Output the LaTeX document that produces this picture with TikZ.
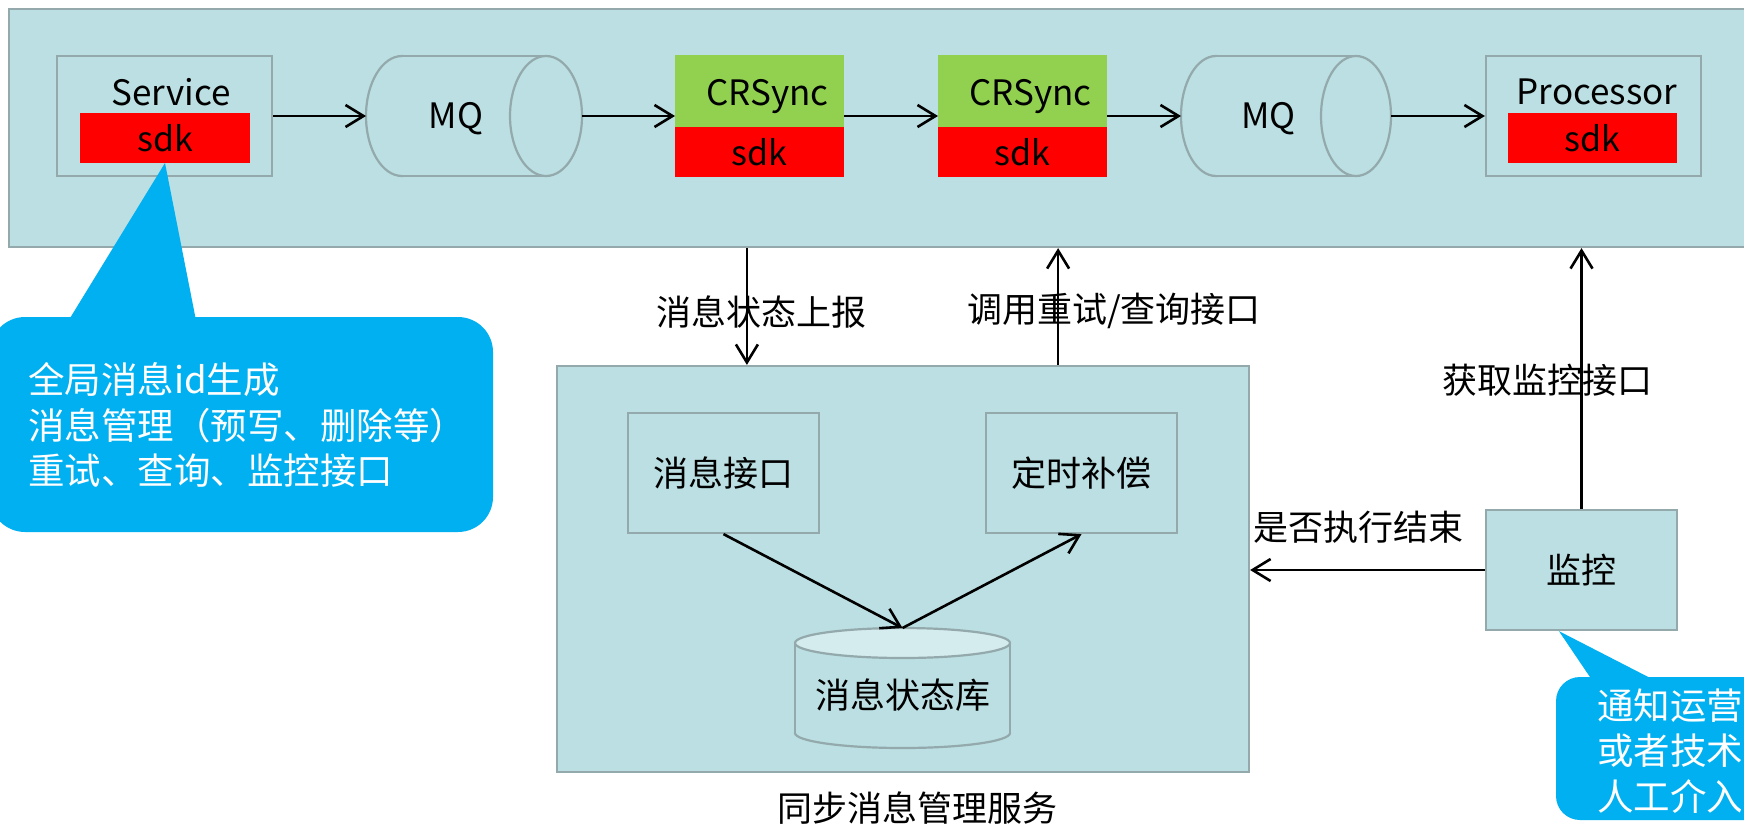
\documentclass[tikz,border=0pt]{standalone}
\usepackage{fontspec}
\setmainfont{Noto Sans CJK SC}
\usetikzlibrary{positioning,calc,arrows.meta}

\definecolor{boxteal}{RGB}{187,223,226}
\definecolor{edgegray}{RGB}{147,169,171}
\definecolor{dbtop}{RGB}{213,236,239}
\definecolor{sdkred}{RGB}{255,0,0}
\definecolor{syncgreen}{RGB}{146,208,80}
\definecolor{noteblue}{RGB}{0,176,240}

\tikzset{every picture/.style={line width=2.2pt}}
\tikzset{
  frame/.style={draw=edgegray, fill=boxteal, inner sep=0pt, font=\fontsize{35}{42}\selectfont},
  slot/.style={inner sep=0pt, outer sep=0pt},
  sdkbox/.style={fill=sdkred, inner sep=0pt, outer sep=0pt, minimum height=50, font=\fontsize{34}{40}\selectfont},
  syncbox/.style={fill=syncgreen, inner sep=0pt, outer sep=0pt, minimum width=169, minimum height=72},
  lbl/.style={inner sep=0pt, font=\fontsize{35}{42}\selectfont},
  note/.style={fill=noteblue, rounded corners=35, inner sep=0pt},
  notetext/.style={text=white, align=left, inner sep=0pt, font=\fontsize{36.5}{45.5}\selectfont},
  arr/.style={-{Straight Barb[length=18pt,width=22pt]}, black, line width=2.6pt}
}

\begin{document}
\begin{tikzpicture}[x=1pt,y=1pt,yscale=-1]
\useasboundingbox (0,0) rectangle (1744,825);
\clip (0,0) rectangle (1744,825);

% top chain
\node[frame, minimum width=1791, minimum height=238] (topbar) at (904.5,128) {};

\node[frame, minimum width=215, minimum height=120] (svc) at (164.5,116) {};
\node[lbl] (svcname) at (171,92) {Service};
\node[sdkbox, minimum width=170] (svcsdk) at (165,138) {sdk};

% MQ 1
\node[slot, minimum width=180, minimum height=120] (mq1) at (456,116) {};
\draw[edgegray, fill=boxteal] ($(mq1.west)+(36,0)$) ellipse [x radius=36, y radius=60];
\fill[boxteal] ($(mq1.north west)+(36,0)$) rectangle (mq1.south east);
\draw[edgegray] ($(mq1.north west)+(36,0)$) -- (mq1.north east) ($(mq1.south west)+(36,0)$) -- (mq1.south east);
\draw[edgegray, fill=boxteal] (mq1.east) ellipse [x radius=36, y radius=60];
\node[lbl] (mq1txt) at ($(mq1)+(0,3)$) {MQ};

\node[syncbox] (crs1) at (759.5,91) {};
\node[lbl] (crs1name) at ($(crs1)+(8,6)$) {CRSync};
\node[sdkbox, minimum width=169, below=0pt of crs1] (crs1sdk) {sdk};
\node[syncbox] (crs2) at (1022.5,91) {};
\node[lbl] (crs2name) at ($(crs2)+(8,6)$) {CRSync};
\node[sdkbox, minimum width=169, below=0pt of crs2] (crs2sdk) {sdk};

% MQ 2
\node[slot, minimum width=175, minimum height=120] (mq2) at (1268.5,116) {};
\draw[edgegray, fill=boxteal] ($(mq2.west)+(35,0)$) ellipse [x radius=35, y radius=60];
\fill[boxteal] ($(mq2.north west)+(35,0)$) rectangle (mq2.south east);
\draw[edgegray] ($(mq2.north west)+(35,0)$) -- (mq2.north east) ($(mq2.south west)+(35,0)$) -- (mq2.south east);
\draw[edgegray, fill=boxteal] (mq2.east) ellipse [x radius=35, y radius=60];
\node[lbl] (mq2txt) at ($(mq2)+(0,3)$) {MQ};

\node[frame, minimum width=215, minimum height=120] (proc) at (1593.5,116) {};
\node[lbl] (procname) at (1597,92) {Processor};
\node[sdkbox, minimum width=169] (procsdk) at (1592.5,138) {sdk};

\draw[arr] (svc) -- (mq1);
\draw[arr] ($(mq1.east)+(36,0)$) -- (crs1.west |- mq1.east);
\draw[arr] (crs1.east |- mq1.east) -- (crs2.west |- mq1.east);
\draw[arr] (crs2.east |- mq1.east) -- (mq2.west);
\draw[arr] ($(mq2.east)+(35,0)$) -- (proc);

% sdk note
\node[note, minimum width=503, minimum height=215] (note1) at (241.5,424.5) {};
\fill[noteblue] ($(note1.north west)+(80,4)$) -- (svcsdk.south) -- ($(note1.north west)+(207,4)$) -- cycle;
\node[notetext, anchor=west] (note1txt) at (27,425) {全局消息id生成\\消息管理（预写、删除等）\\重试、查询、监控接口};

% sync message manager
\node[frame, minimum width=692, minimum height=406] (mgr) at (903,569) {};
\node[lbl] (mgrname) at ($(mgr.south)+(14,35)$) {同步消息管理服务};
\node[frame, minimum width=191, minimum height=120] (msgif) at (723.5,473) {消息接口};
\node[frame, minimum width=191, minimum height=120] (timer) at (1081.5,473) {定时补偿};

\node[slot, minimum width=215, minimum height=105] (db) at (902.5,695.5) {};
\draw[edgegray, fill=boxteal] ($(db.south)-(0,15)$) ellipse [x radius=107.5, y radius=15];
\fill[boxteal] (db.north west) rectangle ($(db.south east)-(0,15)$);
\draw[edgegray] (db.north west) -- ($(db.south west)-(0,15)$) (db.north east) -- ($(db.south east)-(0,15)$);
\draw[edgegray, fill=dbtop] (db.north) ellipse [x radius=107.5, y radius=15];
\node[lbl] (dbtxt) at (db) {消息状态库};

\draw[arr] (msgif.south) -- ($(db.north)-(0,15)$);
\draw[arr] ($(db.north)-(0,15)$) -- (timer.south);

\coordinate (rpt) at ($(mgr.north west)+(191,0)$);
\coordinate (qry) at ($(mgr.north east)+(-192,0)$);
\draw[arr] (topbar.south -| rpt) -- (rpt);
\node[lbl] (rptlbl) at ($(rpt)+(15,-53)$) {消息状态上报};
\draw[arr] (qry) -- (topbar.south -| qry);
\node[lbl] (qrylbl) at ($(qry)+(56,-54)$) {调用重试/查询接口};

% monitor
\node[frame, minimum width=191, minimum height=120] (mon) at (1581.5,570) {监控};
\draw[arr] (mon.north) -- (topbar.south -| mon.north);
\node[lbl] (monlbl) at ($(mon.north)+(-34,-129)$) {获取监控接口};
\draw[arr] (mon.west) -- (mon.west -| mgr.east);
\node[lbl] (endlbl) at ($(mon.west)+(-126,-43)$) {是否执行结束};

\node[note, rounded corners=24, minimum width=244, minimum height=143] (note2) at (1678,748.5) {};
\fill[noteblue] ($(note2.north west)+(37,4)$) -- ($(mon.south west)+(74,0)$) -- ($(note2.north west)+(99,4)$) -- cycle;
\node[notetext, anchor=west] (note2txt) at (1596,751) {通知运营\\或者技术\\人工介入};

\end{tikzpicture}
\end{document}
